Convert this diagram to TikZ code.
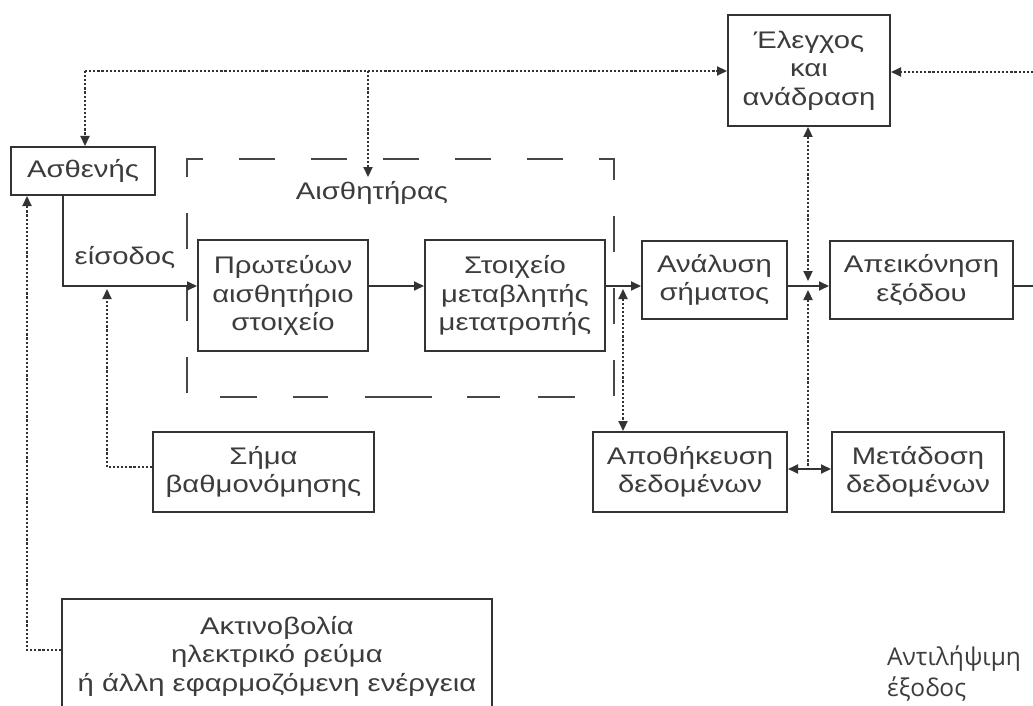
\documentclass[tikz,border=0pt]{standalone}
\usepackage{fontspec}
\setmainfont{Liberation Sans}[FakeStretch=1.22]
\newfontfamily\labelfont{Open Sans}
\usetikzlibrary{arrows.meta}
\definecolor{ink}{HTML}{333333}
\definecolor{txt}{HTML}{3C3C3C}
\begin{document}
\begin{tikzpicture}[x=1pt,y=-1pt,
  tip/.tip={Triangle[length=10pt,width=9pt]},
  box/.style={draw=ink,line width=2pt,fill=white,align=center,text=txt,
    font=\fontsize{24}{28.5}\selectfont,inner sep=0pt},
  lbl/.style={text=txt,font=\fontsize{24}{28.5}\selectfont,inner sep=0pt},
  flow/.style={draw=ink,line width=1.8pt},
  dot/.style={draw=ink,line width=2.2pt,dash pattern=on 2.2pt off 1.9pt},
  frame/.style={draw=ink!90,line width=2pt}]
\useasboundingbox (0,0) rectangle (1033,706);

% sensor enclosure, long dashes
\draw[frame,dash pattern=on 36pt off 36pt,dash phase=2pt]
  (187,177) -- (187,159) -- (614,159) -- (614,397);
\draw[frame,dash pattern=on 0pt off 39pt on 37pt off 38pt on 33pt off 35pt on 67pt off 37pt on 35pt off 36pt on 37pt off 40pt]
  (614,397) -- (187,397);
\draw[frame,dash pattern=on 36pt off 36pt,dash phase=68pt]
  (187,397) -- (187,177);
\node[lbl] (sens) at (372,193) {Αισθητήρας};

% blocks
\node[box,minimum width=144pt,minimum height=48pt] (pat) at (83,171) {Ασθενής};
\node[box,minimum width=162pt,minimum height=111pt] (ctrl) at (809,70.5) {Έλεγχος\\και\\ανάδραση};
\node[box,minimum width=170pt,minimum height=111pt] (prim) at (283,295.5) {Πρωτεύων\\αισθητήριο\\στοιχείο};
\node[box,minimum width=180pt,minimum height=111pt] (conv) at (515,295.5) {Στοιχείο\\μεταβλητής\\μετατροπής};
\node[box,minimum width=145pt,minimum height=78pt] (proc) at (714.5,280) {Ανάλυση\\σήματος};
\node[box,minimum width=183pt,minimum height=78pt] (disp) at (921.5,280) {Απεικόνηση\\εξόδου};
\node[box,minimum width=194pt,minimum height=80pt] (store) at (690,472) {Αποθήκευση\\δεδομένων};
\node[box,minimum width=172pt,minimum height=80pt] (trans) at (918,472) {Μετάδοση\\δεδομένων};
\node[box,minimum width=221pt,minimum height=80pt] (cal) at (263.5,472) {Σήμα\\βαθμονόμησης};
\node[box,minimum width=430pt,minimum height=114pt] (energy) at (277,656) {Ακτινοβολία\\ηλεκτρικό ρεύμα\\ή άλλη εφαρμοζόμενη ενέργεια};

\node[lbl] (inp) at (125,258) {είσοδος};
\node[lbl,font=\labelfont\fontsize{24.5}{31}\selectfont,align=left,anchor=north west] (outp) at (887,646) {Αντιλήψιμη\\έξοδος};

% reference points
\coordinate (main) at (0,286);
\coordinate (topbus) at (85,71);
\coordinate (sensdrop) at (368,71);
\coordinate (sensin) at (368,177);
\coordinate (rightin) at (1033,72);
\coordinate (rightout) at (1033,286);
\coordinate (calturn) at (107,467);
\coordinate (calin) at (107,289);
\coordinate (enturn) at (27,650);
\coordinate (storeup) at (623,289);
\coordinate (ctrldown) at (808,281);
\coordinate (linkup) at (808,290);
\coordinate (linkmid) at (808,469);

% signal path
\draw[flow,-tip] (pat.south -| 63,0) -- (63,286) -- (prim.west |- main);
\draw[flow,-tip] (prim.east |- main) -- (conv.west |- main);
\draw[flow,-tip] (conv.east |- main) -- (proc.west |- main);
\draw[flow,-tip] (proc.east |- main) -- (disp.west |- main);
\draw[flow] (disp.east |- main) -- (rightout);
\draw[flow,tip-tip] (store.east |- linkmid) -- (trans.west |- linkmid);

% feedback and auxiliary paths
\draw[dot,-tip] (topbus) -- (ctrl.west |- topbus);
\draw[dot,-tip] (topbus) -- (topbus |- pat.north);
\draw[dot,-tip] (sensdrop) -- (sensin);
\draw[dot,-tip] (rightin) -- (ctrl.east |- rightin);
\draw[dot,-tip] (cal.west |- calturn) -- (calturn) -- (calin);
\draw[dot,-tip] (energy.west |- enturn) -- (enturn) -- (enturn |- pat.south);
\draw[dot,tip-tip] (storeup) -- (storeup |- store.north);
\draw[dot,tip-tip] (ctrl.south -| ctrldown) -- (ctrldown);
\draw[dot,tip-] (linkup) -- (linkmid);
\end{tikzpicture}
\end{document}
